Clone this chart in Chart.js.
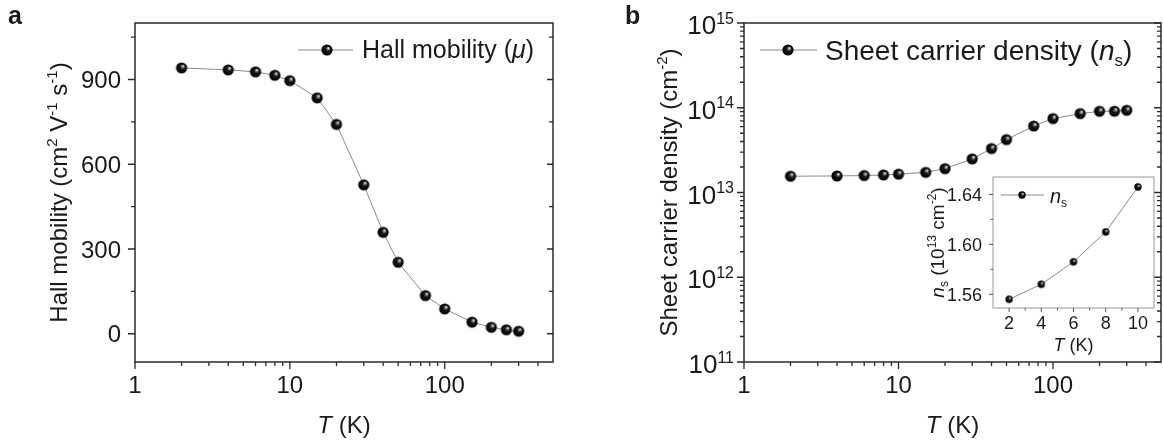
<!DOCTYPE html>
<html>
<head>
<meta charset="utf-8">
<script src="https://cdn.jsdelivr.net/npm/chart.js@4.4.1/dist/chart.umd.min.js"></script>
<style>
  html, body { margin: 0; padding: 0; background: #fff; }
  #wrap { position: relative; width: 1163px; height: 446px; overflow: hidden; }
  #wrap canvas { position: absolute; }
</style>
</head>
<body>
<div id="wrap">
  <canvas id="chartA" width="580" height="446" style="left:0;top:0"></canvas>
  <canvas id="chartB" width="583" height="446" style="left:580px;top:0"></canvas>
  <canvas id="chartInset" width="263" height="195" style="left:900px;top:165px"></canvas>
</div>
<script>
const FONT = '"Liberation Sans", Arial, sans-serif';

// measured data
const temps = [2, 4, 6, 8, 10, 15, 20, 30, 40, 50, 75, 100, 150, 200, 250, 300];
const mobility = [941, 934, 927, 915, 896, 835, 741, 527, 359, 253, 135, 88, 41, 23, 14, 9];
const sheetDensity = [1.556e13, 1.568e13, 1.586e13, 1.610e13, 1.646e13, 1.73e13, 1.91e13, 2.49e13,
                      3.30e13, 4.21e13, 6.09e13, 7.45e13, 8.53e13, 9.08e13, 9.10e13, 9.33e13];
const insetTemps = [2, 4, 6, 8, 10];
const insetDensity = [1.556, 1.568, 1.586, 1.610, 1.646];

// tick positions
const tMajor = [1, 10, 100];
const tMinor = [2, 3, 4, 5, 6, 7, 8, 9, 20, 30, 40, 50, 60, 70, 80, 90, 200, 300, 400];
const mobMajor = [0, 300, 600, 900];
const mobMinor = [150, 450, 750, 1050];
const densMajor = [1e11, 1e12, 1e13, 1e14, 1e15];
const densMinor = [];
[11, 12, 13, 14].forEach(e => { for (let k = 2; k <= 9; k++) densMinor.push(k * Math.pow(10, e)); });
const insetTMajor = [2, 4, 6, 8, 10];
const insetTMinor = [3, 5, 7, 9];
const insetDMajor = [1.56, 1.60, 1.64];
const insetDMinor = [1.58, 1.62];

// shaded black ball used as point marker
const makeSphere = (r) => {
    const d = Math.ceil(r * 2) + 2;
    const c = document.createElement('canvas');
    c.width = c.height = d;
    const g = c.getContext('2d');
    const cx = d / 2, cy = d / 2;
    const grad = g.createRadialGradient(cx + r * 0.3, cy - r * 0.35, r * 0.04, cx, cy, r);
    grad.addColorStop(0, '#ffffff');
    grad.addColorStop(0.16, '#8c8c8c');
    grad.addColorStop(0.42, '#161616');
    grad.addColorStop(1, '#000000');
    g.fillStyle = grad;
    g.beginPath();
    g.arc(cx, cy, r, 0, Math.PI * 2);
    g.fill();
    return c;
};
const bigBall = makeSphere(5.6);
const smallBall = makeSphere(3.7);

// text with italic / superscript / subscript runs
const segFont = (sg, size) => {
    const sz = (sg.sup || sg.sub) ? Math.round(size * 0.62) : size;
    return `${sg.it ? 'italic ' : ''}${sg.bold ? 'bold ' : ''}${sz}px ${FONT}`;
};
const richText = (ctx, segs, x, y, size, align) => {
    let w = 0;
    segs.forEach(sg => { ctx.font = segFont(sg, size); sg.w = ctx.measureText(sg.t).width; w += sg.w; });
    let cx = align === 'center' ? x - w / 2 : align === 'right' ? x - w : x;
    ctx.textAlign = 'left';
    ctx.textBaseline = 'alphabetic';
    segs.forEach(sg => {
        ctx.font = segFont(sg, size);
        const dy = sg.sup ? -size * 0.4 : sg.sub ? size * 0.22 : 0;
        ctx.fillText(sg.t, cx, y + dy);
        cx += sg.w;
    });
};
const S = (t) => ({ t });
const sup = (t) => ({ t, sup: true });
const sub = (t) => ({ t, sub: true });
const it = (t) => ({ t, it: true });

// frame, ticks, labels, titles and legend drawn on top of each chart
const decorPlugin = (spec) => ({
    id: 'decor',
    beforeDraw(chart) {
        if (!spec.fill) return;
        const a = chart.chartArea, ctx = chart.ctx;
        ctx.save();
        ctx.fillStyle = '#fff';
        ctx.fillRect(a.left, a.top, a.right - a.left, a.bottom - a.top);
        ctx.restore();
    },
    afterDraw(chart) {
        const ctx = chart.ctx, a = chart.chartArea;
        ctx.save();
        ctx.strokeStyle = spec.frameColor;
        ctx.lineWidth = spec.frameWidth;
        ctx.strokeRect(a.left, a.top, a.right - a.left, a.bottom - a.top);

        ctx.strokeStyle = spec.tickColor;
        ctx.lineWidth = spec.tickWidth;
        spec.ticks.forEach(t => {
            const s = chart.scales[t.axis];
            ctx.beginPath();
            t.values.forEach(v => {
                const p = s.getPixelForValue(v);
                const d = t.inward ? -t.len : t.len;
                if (t.side === 'bottom') { ctx.moveTo(p, a.bottom); ctx.lineTo(p, a.bottom + d); }
                if (t.side === 'left') { ctx.moveTo(a.left, p); ctx.lineTo(a.left - d, p); }
                if (t.side === 'right') { ctx.moveTo(a.right, p); ctx.lineTo(a.right + d, p); }
            });
            ctx.stroke();
        });

        ctx.fillStyle = '#1a1a1a';
        spec.labels.forEach(l => {
            const s = chart.scales[l.axis];
            l.values.forEach(v => {
                const p = s.getPixelForValue(v);
                if (l.side === 'bottom') richText(ctx, l.text(v), p, l.base, l.size, 'center');
                else richText(ctx, l.text(v), l.right, p + l.shift, l.size, 'right');
            });
        });

        spec.titles.forEach(tt => {
            const cx = tt.x === 'mid' ? (a.left + a.right) / 2 : tt.x;
            const cy = tt.y === 'mid' ? (a.top + a.bottom) / 2 : tt.y;
            if (tt.rotate) {
                ctx.save();
                ctx.translate(cx, cy);
                ctx.rotate(-Math.PI / 2);
                richText(ctx, tt.segs, 0, tt.size * 0.36, tt.size, 'center');
                ctx.restore();
            } else {
                richText(ctx, tt.segs, cx, cy, tt.size, 'center');
            }
        });

        const lg = spec.legend;
        if (lg) {
            ctx.strokeStyle = '#8a8a8a';
            ctx.lineWidth = 1;
            ctx.beginPath();
            ctx.moveTo(lg.x1, lg.y);
            ctx.lineTo(lg.x2, lg.y);
            ctx.stroke();
            const b = lg.ball;
            ctx.drawImage(b, lg.mx - b.width / 2, lg.y - b.height / 2);
            richText(ctx, lg.segs, lg.textX, lg.textY, lg.size, 'left');
        }
        if (spec.panel) {
            ctx.font = `bold ${spec.panel.size}px ${FONT}`;
            ctx.textAlign = 'left';
            ctx.fillText(spec.panel.t, spec.panel.x, spec.panel.y);
        }
        ctx.restore();
    }
});

const lineSet = (xs, ys, ball) => ({
    data: xs.map((x, i) => ({ x, y: ys[i] })),
    showLine: true,
    borderColor: '#8a8a8a',
    borderWidth: 1,
    pointStyle: ball,
    pointRadius: ball.width / 2,
    pointHoverRadius: ball.width / 2,
    clip: false
});

const hiddenScale = (extra, fitWidth, fitHeight) => Object.assign({
    grid: { display: false },
    border: { display: false },
    ticks: { display: false },
    afterFit: (s) => {
        if (fitWidth !== undefined) s.width = fitWidth;
        if (fitHeight !== undefined) s.height = fitHeight;
    }
}, extra);

const baseOptions = (padding, xScale, yScale) => ({
    responsive: false,
    animation: false,
    events: [],
    layout: { padding, autoPadding: false },
    plugins: { legend: { display: false }, tooltip: { enabled: false } },
    scales: { x: xScale, y: yScale }
});

const tLabel = (v) => [S(String(v))];
const tTitle = [it('T'), S(' (K)')];

// a: Hall mobility
new Chart(document.getElementById('chartA'), {
    type: 'scatter',
    data: { datasets: [lineSet(temps, mobility, bigBall)] },
    options: baseOptions({ top: 23, right: 27, left: 0, bottom: 0 },
        hiddenScale({ type: 'logarithmic', position: 'bottom', min: 1, max: 500 }, undefined, 84),
        hiddenScale({ type: 'linear', position: 'left', min: -100, max: 1100 }, 135, undefined)),
    plugins: [decorPlugin({
        frameColor: '#2a2a2a', frameWidth: 1.5, tickColor: '#2a2a2a', tickWidth: 1.3,
        ticks: [
            { axis: 'x', side: 'bottom', values: tMajor, len: 7 },
            { axis: 'x', side: 'bottom', values: tMinor, len: 4 },
            { axis: 'y', side: 'left', values: mobMajor, len: 7 },
            { axis: 'y', side: 'left', values: mobMinor, len: 4 },
            { axis: 'y', side: 'right', values: mobMajor, len: 6, inward: true },
            { axis: 'y', side: 'right', values: mobMinor, len: 4, inward: true }
        ],
        labels: [
            { axis: 'x', side: 'bottom', values: tMajor, text: tLabel, base: 393, size: 24 },
            { axis: 'y', side: 'left', values: mobMajor, text: tLabel, right: 121, shift: 8.6, size: 24 }
        ],
        titles: [
            { segs: tTitle, x: 'mid', y: 433, size: 24 },
            { segs: [S('Hall mobility (cm'), sup('2'), S(' V'), sup('-1'), S(' s'), sup('-1'), S(')')],
              x: 58, y: 'mid', size: 24, rotate: true }
        ],
        legend: { x1: 298, x2: 353, mx: 327, y: 50, ball: bigBall, textX: 362, textY: 58,
                  segs: [S('Hall mobility ('), it('μ'), S(')')], size: 25 },
        panel: { t: 'a', x: 8, y: 24, size: 25 }
    })]
});

// b: sheet carrier density
new Chart(document.getElementById('chartB'), {
    type: 'scatter',
    data: { datasets: [lineSet(temps, sheetDensity, bigBall)] },
    options: baseOptions({ top: 23, right: 2, left: 0, bottom: 0 },
        hiddenScale({ type: 'logarithmic', position: 'bottom', min: 1, max: 500 }, undefined, 84),
        hiddenScale({ type: 'logarithmic', position: 'left', min: 1e11, max: 1e15 }, 164, undefined)),
    plugins: [decorPlugin({
        frameColor: '#2a2a2a', frameWidth: 1.5, tickColor: '#2a2a2a', tickWidth: 1.3,
        ticks: [
            { axis: 'x', side: 'bottom', values: tMajor, len: 7 },
            { axis: 'x', side: 'bottom', values: tMinor, len: 4 },
            { axis: 'y', side: 'left', values: densMajor, len: 7 },
            { axis: 'y', side: 'left', values: densMinor, len: 4 },
            { axis: 'y', side: 'right', values: densMajor, len: 7, inward: true },
            { axis: 'y', side: 'right', values: densMinor, len: 4, inward: true }
        ],
        labels: [
            { axis: 'x', side: 'bottom', values: tMajor, text: tLabel, base: 393, size: 24 },
            { axis: 'y', side: 'left', values: densMajor,
              text: (v) => [S('10'), sup(String(Math.round(Math.log10(v))))], right: 154, shift: 11, size: 26 }
        ],
        titles: [
            { segs: tTitle, x: 'mid', y: 433, size: 24 },
            { segs: [S('Sheet carrier density (cm'), sup('-2'), S(')')], x: 88, y: 'mid', size: 24, rotate: true }
        ],
        legend: { x1: 180, x2: 237, mx: 208, y: 50, ball: bigBall, textX: 245, textY: 60,
                  segs: [S('Sheet carrier density ('), it('n'), sub('s'), S(')')], size: 28 },
        panel: { t: 'b', x: 45, y: 24, size: 25 }
    })]
});

// inset: low temperature detail of n_s
new Chart(document.getElementById('chartInset'), {
    type: 'scatter',
    data: { datasets: [lineSet(insetTemps, insetDensity, smallBall)] },
    options: baseOptions({ top: 12, right: 9, left: 0, bottom: 0 },
        hiddenScale({ type: 'linear', position: 'bottom', min: 1, max: 11 }, undefined, 52),
        hiddenScale({ type: 'linear', position: 'left', min: 1.549, max: 1.654 }, 93, undefined)),
    plugins: [decorPlugin({
        fill: true,
        frameColor: '#9a9a9a', frameWidth: 1, tickColor: '#555', tickWidth: 1,
        ticks: [
            { axis: 'x', side: 'bottom', values: insetTMajor, len: 4 },
            { axis: 'x', side: 'bottom', values: insetTMinor, len: 2.5 },
            { axis: 'y', side: 'left', values: insetDMajor, len: 4 },
            { axis: 'y', side: 'left', values: insetDMinor, len: 2.5 }
        ],
        labels: [
            { axis: 'x', side: 'bottom', values: insetTMajor, text: tLabel, base: 164, size: 18 },
            { axis: 'y', side: 'left', values: insetDMajor, text: (v) => [S(v.toFixed(2))], right: 82, shift: 6.5, size: 18 }
        ],
        titles: [
            { segs: tTitle, x: 'mid', y: 186, size: 18 },
            { segs: [it('n'), sub('s'), S(' (10'), sup('13'), S(' cm'), sup('-2'), S(')')],
              x: 37, y: 'mid', size: 19, rotate: true }
        ],
        legend: { x1: 101, x2: 144, mx: 122, y: 30, ball: smallBall, textX: 150, textY: 38,
                  segs: [it('n'), sub('s')], size: 20 }
    })]
});
</script>
</body>
</html>
